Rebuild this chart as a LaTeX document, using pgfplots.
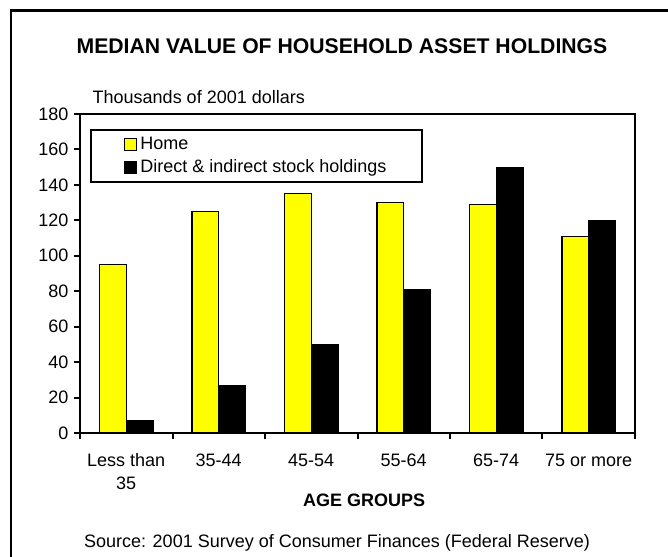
\documentclass[border=0pt]{standalone}
\usepackage{fontspec}
\setmainfont{Liberation Sans}
\usepackage{pgfplots}
\pgfplotsset{compat=1.18}
\definecolor{homeyellow}{RGB}{255,255,0}

\begin{document}
\begin{tikzpicture}
\useasboundingbox (0,0) rectangle (501pt,-417.75pt);
% outer frame (only left and top edges fall inside the picture)
\draw[line width=1.9pt] (8.25pt,-440pt) -- (8.25pt,-7.9pt) -- (520pt,-7.9pt);
\node[anchor=base, font=\fontsize{15.9}{18}\selectfont\bfseries] at (256.5pt,-40pt)
  {MEDIAN VALUE OF HOUSEHOLD ASSET HOLDINGS};
\node[anchor=base west, font=\fontsize{13.5}{16}\selectfont] at (66pt,-77.25pt)
  {Thousands of 2001 dollars};
\begin{axis}[
  at={(60pt,-324.75pt)}, anchor=south west,
  scale only axis, width=416.25pt, height=239.25pt,
  xmin=-0.5, xmax=5.5, ymin=0, ymax=180,
  ybar=0pt, bar width=0.287,
  xtick={-0.5,0.5,...,5.5},
  x tick label as interval,
  xticklabels={{Less than\\35},{35-44},{45-54},{55-64},{65-74},{75 or more}},
  ytick={0,20,...,180},
  tick pos=left,
  tick align=outside, major tick length=4.5pt,
  axis line style={line width=1.5pt},
  every tick/.style={black, line width=1.5pt},
  /pgf/number format/assume math mode=true,
  ticklabel style={font=\fontsize{13.5}{17.25}\selectfont},
  xticklabel style={align=center, anchor=north, inner sep=0pt, yshift=-11pt},
  yticklabel style={anchor=east, inner sep=0pt, xshift=-4pt},
  xlabel={AGE GROUPS},
  xlabel style={at={(axis description cs:0.5,0)}, anchor=base, yshift=-55pt, xshift=4.9pt,
    font=\fontsize{13.5}{16}\selectfont\bfseries},
  legend style={at={(axis description cs:0,1)}, anchor=north west,
    xshift=7.5pt, yshift=-11.25pt, draw=black, line width=1.5pt,
    inner xsep=24.5pt, inner ysep=4.5pt, row sep=4pt,
    font=\fontsize{13.5}{16}\selectfont,
    nodes={inner xsep=2.4pt, inner ysep=1pt}},
  legend cell align=left,
  legend image code/.code={\draw[#1] (0pt,-4.5pt) rectangle (9pt,4.5pt);},
]
\addplot[fill=homeyellow, draw=black, line width=1.1pt]
  coordinates {(0,95) (1,125) (2,135) (3,130) (4,129) (5,111)};
\addplot[fill=black, draw=black, line width=0.4pt]
  coordinates {(0,7) (1,27) (2,50) (3,81) (4,150) (5,120)};
\legend{Home, Direct \& indirect stock holdings}
\end{axis}
\node[anchor=base, font=\fontsize{13.5}{16}\selectfont] at (252.75pt,-410.25pt)
  {Source: 2001 Survey of Consumer Finances (Federal Reserve)};
\end{tikzpicture}
\end{document}
